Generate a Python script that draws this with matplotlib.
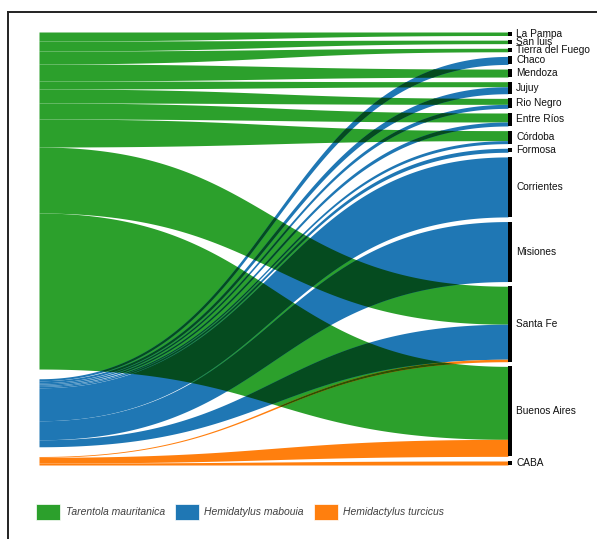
import numpy as np
import matplotlib.pyplot as plt
from matplotlib.colors import to_rgb
from matplotlib.patches import Patch
from matplotlib.lines import Line2D

plt.rcParams["font.family"] = ["Liberation Sans", "DejaVu Sans"]

# ── data ────────────────────────────────────────────────────────────────────
species = ["Tarentola mauritanica", "Hemidatylus mabouia", "Hemidactylus turcicus"]
colors = ["#2ca02c", "#1f77b4", "#ff7f0e"]

provinces = ["La Pampa", "San luis", "Tierra del Fuego", "Chaco", "Mendoza",
             "Jujuy", "Rio Negro", "Entre Ríos", "Córdoba", "Formosa",
             "Corrientes", "Misiones", "Santa Fe", "Buenos Aires", "CABA"]

# width of each flow at the province side (right)
tar_right = [3.5, 3.5, 3.5, 0, 8, 5, 6, 9, 10, 0, 0, 0, 38, 73, 0]
hma_right = [0, 0, 0, 8, 0, 7, 4, 4, 3, 4, 60, 60, 35, 0, 0]
htu_right = [0, 0, 0, 0, 0, 0, 0, 0, 0, 0, 0, 0, 2.5, 17, 4]

# width of each flow at the species side (left)
tar_left = [9, 10, 13, 0, 17, 8, 14, 16, 28, 0, 0, 0, 66, 156, 0]
hma_left = [0, 0, 0, 2, 0, 2, 1.3, 1.3, 1, 1.4, 33, 19, 7, 0, 0]
htu_left = [0, 0, 0, 0, 0, 0, 0, 0, 0, 0, 0, 0, 0.8, 5.7, 2]

right_w = np.array([tar_right, hma_right, htu_right])
left_w = np.array([tar_left, hma_left, htu_left])

GAP_R = 4.64
X_END = 0.9915

# ── layout ──────────────────────────────────────────────────────────────────
node_h = right_w.sum(axis=0)
H = node_h.sum() + GAP_R * (len(provinces) - 1)
gap_l = (H - left_w.sum()) / (len(species) - 1)

node_top = np.concatenate([[0], np.cumsum(node_h + GAP_R)[:-1]])
r_start = node_top + np.vstack([np.zeros(len(provinces)),
                                np.cumsum(right_w, axis=0)[:-1]])

sp_tot = left_w.sum(axis=1)
sp_top = np.concatenate([[0], np.cumsum(sp_tot + gap_l)[:-1]])
l_start = sp_top[:, None] + np.hstack([np.zeros((len(species), 1)),
                                       np.cumsum(left_w, axis=1)[:, :-1]])

# bezier-like link shape (control points at mid x)
u = np.linspace(0, 1, 800)
bx = 1.5 * u * (1 - u) + u ** 3
by = 3 * u ** 2 - 2 * u ** 3
xs = np.linspace(0, 1, 900)
s = np.interp(xs, bx, by)
xd = xs * X_END

flows = []
for i in range(len(species)):
    for j in range(len(provinces)):
        if right_w[i, j] <= 0:
            continue
        l0, l1 = l_start[i, j], l_start[i, j] + left_w[i, j]
        r0, r1 = r_start[i, j], r_start[i, j] + right_w[i, j]
        top = l0 + (r0 - l0) * s
        bot = l1 + (r1 - l1) * s
        flows.append((i, top, bot))

# ── plot ────────────────────────────────────────────────────────────────────
fig = plt.figure(figsize=(5.97, 5.39), dpi=100)
ax = fig.add_axes([39 / 597, 74 / 539, 473 / 597, 433 / 539])

for i, top, bot in flows:
    ax.fill_between(xd, top, bot, color=colors[i], lw=0)

# overlapping ribbons look multiplied
for a in range(len(flows)):
    for b in range(a + 1, len(flows)):
        ia, ta, ba = flows[a]
        ib, tb, bb = flows[b]
        if ia == ib:
            continue
        lo = np.maximum(ta, tb)
        hi = np.minimum(ba, bb)
        mask = hi > lo
        if not mask.any():
            continue
        mc = tuple(np.array(to_rgb(colors[ia])) * np.array(to_rgb(colors[ib])))
        ax.fill_between(xd, lo, hi, where=mask, interpolate=True, color=mc, lw=0)

ax.bar(np.full(len(provinces), X_END), node_h, bottom=node_top,
       width=1 - X_END, align="edge", color="black", lw=0)

for name, t, h in zip(provinces, node_top, node_h):
    ax.annotate(name, (1, t + h / 2), xytext=(3, 0), textcoords="offset points",
                va="center", ha="left", fontsize=7.3, color="#111111")

ax.set_xlim(0, 1)
ax.set_ylim(H, 0)
ax.axis("off")

# frame lines from the original figure
fig.add_artist(Line2D([8 / 597, 8 / 597], [0, 1 - 12 / 539],
                      transform=fig.transFigure, color="#222222", lw=1.4))
fig.add_artist(Line2D([8 / 597, 1], [1 - 12 / 539, 1 - 12 / 539],
                      transform=fig.transFigure, color="#222222", lw=1.4))

handles = [Patch(facecolor=c, edgecolor="white", lw=0.5) for c in colors]
fig.legend(handles, species, loc="center left",
           bbox_to_anchor=(36 / 597, 1 - 512 / 539), ncol=3, frameon=False,
           prop={"style": "italic", "size": 7.5}, labelcolor="#404040",
           handlelength=2.35, handleheight=1.85, handletextpad=0.5,
           columnspacing=0.95, borderpad=0, borderaxespad=0)

fig.savefig("out.png", dpi=100)
